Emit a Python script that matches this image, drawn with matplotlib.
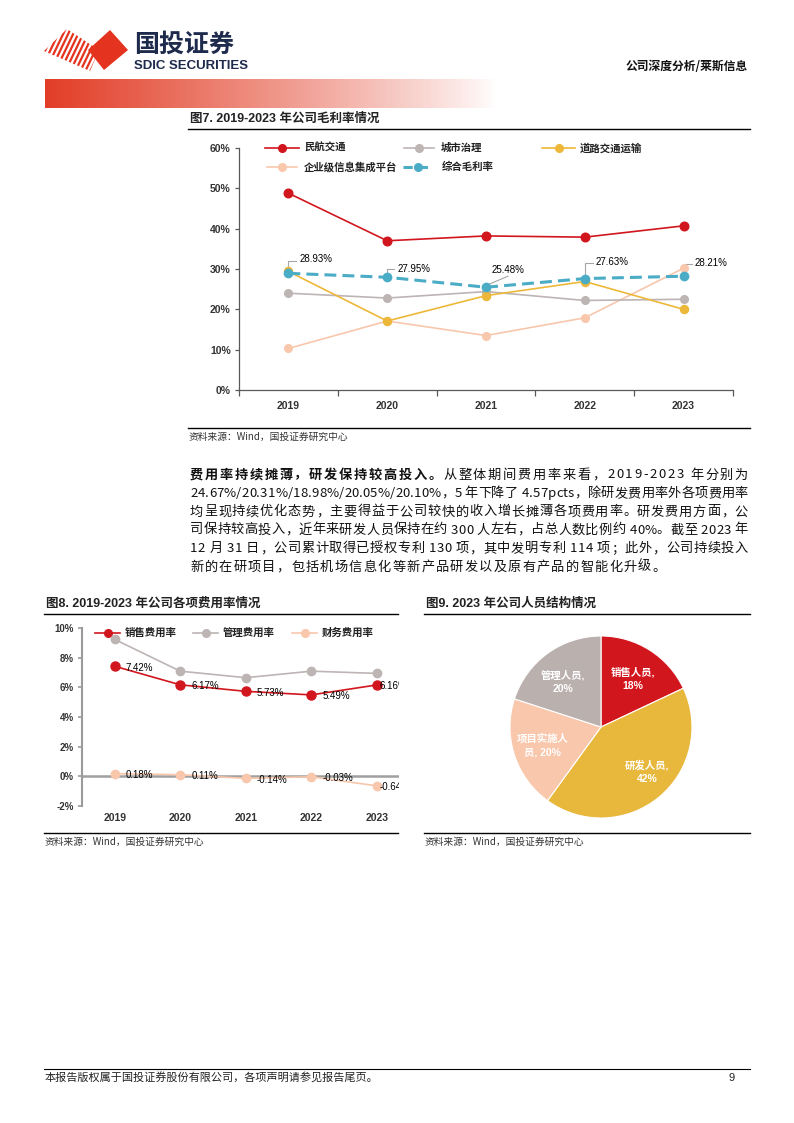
import numpy as np
import matplotlib
matplotlib.use("Agg")
import matplotlib.pyplot as plt
from matplotlib.patches import Polygon
from matplotlib.font_manager import FontProperties

# ---- data ----
years = ['2019', '2020', '2021', '2022', '2023']

# fig 7: gross margin (%)
gm_civil = [48.8, 37.0, 38.2, 37.9, 40.7]    # 民航交通
gm_city = [24.0, 22.8, 24.4, 22.2, 22.5]     # 城市治理
gm_road = [29.4, 17.1, 23.4, 26.9, 20.0]     # 道路交通运输
gm_ent = [10.3, 17.1, 13.5, 17.9, 30.2]      # 企业级信息集成平台
gm_total = [28.93, 27.95, 25.48, 27.63, 28.21]  # 综合毛利率
gm_names = ['民航交通', '城市治理', '道路交通运输', '企业级信息集成平台', '综合毛利率']

# fig 8: expense ratios (%)
exp_sales = [7.42, 6.17, 5.73, 5.49, 6.16]
exp_admin = [9.23, 7.09, 6.65, 7.09, 6.94]
exp_fin = [0.18, 0.11, -0.14, -0.03, -0.64]
exp_names = ['销售费用率', '管理费用率', '财务费用率']

# fig 9: staff structure (%)
staff_names = ['销售人员', '研发人员', '项目实施人员', '管理人员']
staff_share = [18, 42, 20, 20]
staff_labels = ['销售人员,\n18%', '研发人员,\n42%', '项目实施人\n员, 20%', '管理人员,\n20%']

para_lines = [
    [('费用率持续摊薄，研发保持较高投入。', 'bold'), ('从整体期间费用率来看，2019-2023 年分别为', 'normal')],
    [('24.67%/20.31%/18.98%/20.05%/20.10%，5 年下降了 4.57pcts，除研发费用率外各项费用率', 'normal')],
    [('均呈现持续优化态势，主要得益于公司较快的收入增长摊薄各项费用率。研发费用方面，公', 'normal')],
    [('司保持较高投入，近年来研发人员保持在约 300 人左右，占总人数比例约 40%。截至 2023 年', 'normal')],
    [('12 月 31 日，公司累计取得已授权专利 130 项，其中发明专利 114 项；此外，公司持续投入', 'normal')],
    [('新的在研项目，包括机场信息化等新产品研发以及原有产品的智能化升级。', 'normal')],
]

# ---- style ----
RED = '#D2161E'
GRAY = '#BDB4B4'
YEL = '#EDB83A'
PEACH = '#F8C7AC'
TEAL = '#4BACC6'
DARK = '#333333'
CJK = ['Noto Sans CJK SC', 'DejaVu Sans']
NUM = ['Liberation Sans', 'Noto Sans CJK SC', 'DejaVu Sans']
plt.rcParams['font.family'] = NUM

W, H = 794, 1123
fig = plt.figure(figsize=(W / 100, H / 100), dpi=100)

# page overlay in pixel coords
ax0 = fig.add_axes([0, 0, 1, 1])
ax0.axis('off')


def box(l, t, r, b):
    return [l / W, 1 - b / H, (r - l) / W, (b - t) / H]


def to_px(ax, xv, yv):
    dx, dy = ax.transData.transform((xv, yv))
    return dx, H - dy


# header gradient bar
g = np.linspace(0, 1, 300)
rgba = np.zeros((1, 300, 4))
rgba[..., 0] = 0.89
rgba[..., 1] = 0.24
rgba[..., 2] = 0.15
rgba[..., 3] = (1 - g) ** 0.85
ax0.imshow(rgba, extent=(45, 496, 108, 79), aspect='auto', interpolation='bilinear')
ax0.set_xlim(0, W)
ax0.set_ylim(H, 0)

# logo
ax0.add_patch(Polygon([(88, 50), (110, 30), (128, 50), (104, 70)], closed=True,
                      facecolor='#E4331E', edgecolor='none'))
clip = Polygon([(44, 51), (67, 29), (99, 50), (90, 71)], closed=True,
               facecolor='none', edgecolor='none')
ax0.add_patch(clip)
for sx in np.arange(18, 112, 5.0):
    ln, = ax0.plot([sx, sx + 24], [76, 26], color='#E4331E', lw=1.6)
    ln.set_clip_path(clip)
ax0.text(134, 45, '国投证券', fontsize=18, fontweight='bold', color='#1F2B4D',
         family=CJK, va='center', ha='left')
ax0.text(134, 66, 'SDIC SECURITIES', fontsize=9.5, fontweight='bold', color='#1F2B4D',
         va='center', ha='left')
ax0.text(748, 66, '公司深度分析/莱斯信息', fontsize=8.5, fontweight='bold', color='#111111',
         family=CJK, va='center', ha='right')

# section frames
def frame(x0, x1, title, y_title, y_line, y_src_line, y_src):
    ax0.text(x0 + 2, y_title, title, fontsize=9, fontweight='bold', color='#222222',
             family=NUM, va='center', ha='left')
    ax0.plot([x0, x1], [y_line, y_line], color='black', lw=1.0)
    ax0.plot([x0, x1], [y_src_line, y_src_line], color='black', lw=1.0)
    ax0.text(x0 + 1, y_src, '资料来源：Wind，国投证券研究中心', fontsize=7, style='italic',
             color='#333333', family=CJK, va='center', ha='left')


frame(188, 750, '图7. 2019-2023 年公司毛利率情况', 119, 129, 428, 437)
frame(44, 398, '图8. 2019-2023 年公司各项费用率情况', 604, 614, 833, 842)
frame(424, 750, '图9. 2023 年公司人员结构情况', 604, 614, 833, 842)

# footer
ax0.plot([44, 750], [1069, 1069], color='black', lw=0.8)
ax0.text(45, 1078, '本报告版权属于国投证券股份有限公司，各项声明请参见报告尾页。', fontsize=8,
         color='#222222', family=CJK, va='center', ha='left')
ax0.text(735, 1078, '9', fontsize=8, color='#222222', va='center', ha='right')

# paragraph (justified)
renderer = fig.canvas.get_renderer()
BODY_FS = 9.5
y_lines = [474, 492.5, 511, 529, 547.5, 566]
for li, parts in enumerate(para_lines):
    chars = []
    for s, w in parts:
        fp = FontProperties(family=CJK, size=BODY_FS, weight=w)
        for ch in s:
            wd, _, _ = renderer.get_text_width_height_descent(ch, fp, ismath=False)
            chars.append((ch, w, wd))
    total = sum(c[2] for c in chars)
    last = li == len(para_lines) - 1
    gap = 0.0 if last else (748 - 190 - total) / (len(chars) - 1)
    xp = 190
    for ch, w, wd in chars:
        ax0.text(xp, y_lines[li] + 4.5, ch, fontsize=BODY_FS, fontweight=w, family=CJK,
                 color='#111111', va='baseline', ha='left')
        xp += wd + (gap if not last else 1.2)

# ---- fig 7 ----
ax1 = fig.add_axes(box(239, 148, 733, 390))
ax1.set_facecolor('none')
xs = np.arange(len(years))
ax1.plot(xs, gm_ent, color=PEACH, lw=1.2, marker='o', ms=5.5, mec=PEACH, zorder=3)
ax1.plot(xs, gm_city, color=GRAY, lw=1.2, marker='o', ms=5.5, mec=GRAY, zorder=3)
ax1.plot(xs, gm_road, color=YEL, lw=1.2, marker='o', ms=5.8, mec=YEL, zorder=4)
ax1.plot(xs, gm_civil, color=RED, lw=1.2, marker='o', ms=6.2, mec=RED, zorder=4)
ax1.plot(xs, gm_total, color=TEAL, lw=2.2, ls=(0, (3.9, 2.0)), marker='o', ms=6,
         mec=TEAL, zorder=5)
ax1.set_xlim(-0.5, 4.5)
ax1.set_ylim(0, 60)
ax1.set_yticks(range(0, 61, 10))
ax1.set_yticklabels([f'{v}%' for v in range(0, 61, 10)])
ax1.set_xticks(xs)
ax1.set_xticklabels(years)
ax1.set_xticks(np.arange(-0.5, 5, 1), minor=True)
for s in ['top', 'right']:
    ax1.spines[s].set_visible(False)
for s in ['left', 'bottom']:
    ax1.spines[s].set_color('#595959')
    ax1.spines[s].set_linewidth(0.9)
ax1.tick_params(axis='y', length=3, width=0.9, color='#595959', pad=3,
                labelsize=7.5, labelcolor=DARK)
ax1.tick_params(axis='x', which='major', length=0, pad=8, labelsize=7.5, labelcolor=DARK)
ax1.tick_params(axis='x', which='minor', length=4, width=0.9, color='#595959')
for lab in ax1.get_xticklabels() + ax1.get_yticklabels():
    lab.set_fontweight('bold')

# data labels with leader lines (offsets in px)
leaders = [
    [(0, -3), (0, -12), (8, -12)],
    [(0, -3), (0, -8), (7, -8)],
    [(3, -3), (22, -11)],
    [(0, -3), (0, -16), (8, -16)],
    [(0, -3), (0, -12), (8, -12)],
]
label_pos = [(11, -14), (10, -8), (6, -17), (11, -17), (11, -13)]
for i, v in enumerate(gm_total):
    mx, my = to_px(ax1, i, v)
    pts = leaders[i]
    ax0.plot([mx + p[0] for p in pts], [my + p[1] for p in pts], color='#A6A6A6', lw=0.8)
    ax0.text(mx + label_pos[i][0], my + label_pos[i][1], f'{v:.2f}%', fontsize=7,
             color='black', va='center', ha='left')

# legend fig 7
leg7 = [
    (gm_names[0], RED, '-', 265, 299, 304, 148),
    (gm_names[1], GRAY, '-', 404, 434, 441, 148),
    (gm_names[2], YEL, '-', 542, 575, 580, 148),
    (gm_names[3], PEACH, '-', 267, 297, 304, 167),
    (gm_names[4], TEAL, '--', 403, 433, 442, 167),
]
for name, col, ls, a, b, t, y in leg7:
    if ls == '--':
        ax0.plot([a, b], [y, y], color=col, lw=2.2, ls=(0, (3.0, 2.0)))
    else:
        ax0.plot([a, b], [y, y], color=col, lw=1.2)
    ax0.plot([(a + b) / 2], [y], 'o', color=col, ms=5.5)
    ax0.text(t, y, name, fontsize=7.5, fontweight='bold', family=CJK, color='#222222',
             va='center', ha='left')

# ---- fig 8 ----
ax2 = fig.add_axes(box(82, 628, 399, 806))
ax2.set_facecolor('none')
ax2.axhline(0, color='#A0A0A0', lw=1.8, zorder=1)
ax2.plot(xs, exp_admin, color=GRAY, lw=1.2, marker='o', ms=6, mec=GRAY, zorder=3)
ax2.plot(xs, exp_fin, color=PEACH, lw=1.2, marker='o', ms=6, mec=PEACH, zorder=3)
ax2.plot(xs, exp_sales, color=RED, lw=1.2, marker='o', ms=6.5, mec=RED, zorder=4)
ax2.set_xlim(-0.5, 4.34)
ax2.set_ylim(-2, 10)
ax2.set_yticks(range(-2, 11, 2))
ax2.set_yticklabels([f'{v}%' for v in range(-2, 11, 2)])
ax2.set_xticks(xs)
ax2.set_xticklabels(years)
for s in ['top', 'right', 'bottom']:
    ax2.spines[s].set_visible(False)
ax2.spines['left'].set_color('#9A9A9A')
ax2.spines['left'].set_linewidth(1.5)
ax2.tick_params(axis='y', length=3, width=1.2, color='#9A9A9A', pad=3,
                labelsize=7, labelcolor=DARK)
ax2.tick_params(axis='x', length=0, pad=5, labelsize=7.5, labelcolor=DARK)
for lab in ax2.get_xticklabels() + ax2.get_yticklabels():
    lab.set_fontweight('bold')
for i in range(len(years)):
    dx = 11 if i < 4 else 3
    for v in (exp_sales[i], exp_fin[i]):
        t = ax2.text(i, v, f'{v:.2f}%', fontsize=7, color='black', va='center', ha='left',
                     zorder=6)
        t.set_transform(ax2.transData + matplotlib.transforms.ScaledTranslation(
            dx / 100, -1.5 / 100, fig.dpi_scale_trans))
        t.set_clip_on(True)

leg8 = [
    (exp_names[0], RED, 95, 120, 125),
    (exp_names[1], GRAY, 193, 218, 223),
    (exp_names[2], PEACH, 292, 317, 322),
]
for name, col, a, b, t in leg8:
    ax0.plot([a, b], [633, 633], color=col, lw=1.2)
    ax0.plot([(a + b) / 2], [633], 'o', color=col, ms=5.5)
    ax0.text(t, 633, name, fontsize=7.5, fontweight='bold', family=CJK, color='#222222',
             va='center', ha='left')

# ---- fig 9 ----
ax3 = fig.add_axes(box(510, 636, 692, 818))
ax3.pie(staff_share, colors=[RED, '#E8B83D', PEACH, '#BAB0AE'], startangle=90,
        counterclock=False, wedgeprops=dict(edgecolor='white', linewidth=0.8))
ax3.set_xlim(-1, 1)
ax3.set_ylim(-1, 1)
pie_text_pos = [(0.35, 0.53), (0.51, -0.49), (-0.64, -0.20), (-0.42, 0.49)]
for lab, (px, py) in zip(staff_labels, pie_text_pos):
    ax3.text(px, py, lab, fontsize=7.5, fontweight='bold', color='white', family=NUM,
             ha='center', va='center', linespacing=1.45)

fig.savefig('out.png', dpi=100)
